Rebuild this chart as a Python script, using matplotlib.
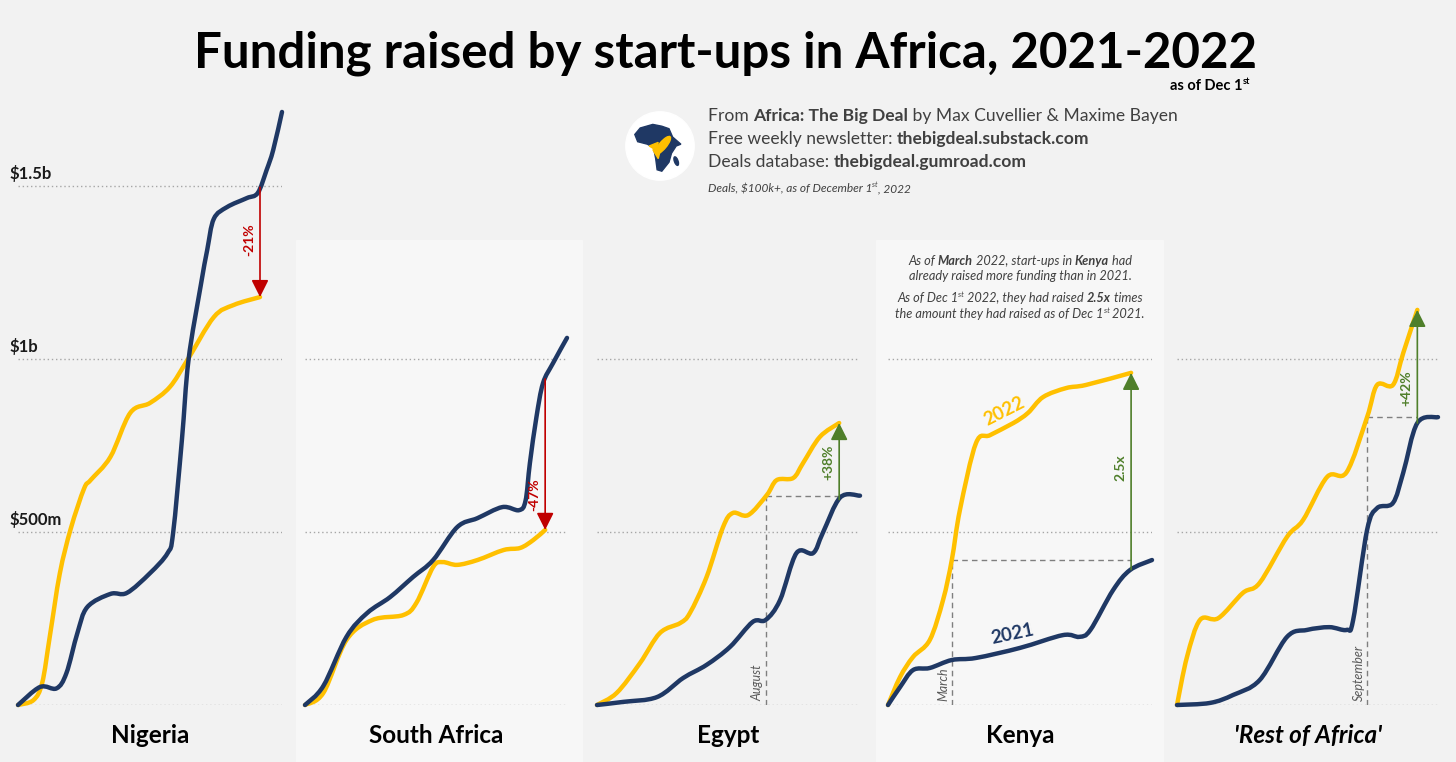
import matplotlib
matplotlib.use('Agg')
import matplotlib.pyplot as plt
from matplotlib.path import Path
from matplotlib.patches import PathPatch, Rectangle, Circle, Ellipse, Polygon

plt.rcParams['font.family'] = ['Lato', 'DejaVu Sans']

W, H = 1456, 762
NAVY = '#1f3864'
GOLD = '#ffc000'
RED = '#c00000'
GREEN = '#4f7f2a'
GRID = '#a6a6a6'
TXT = '#404040'

# cumulative funding raised, $m, by month of the year (0 = Jan 1st, 12 = Dec 31st)
nigeria_x21 = [0, 1.0, 1.75, 2.2, 2.7, 3.15, 4.2, 4.95, 6.0, 6.8, 7.05, 7.45, 7.75, 8.3, 8.6, 8.9, 9.5, 10.4, 10.9, 11.3, 11.6, 12]
nigeria_y21 = [0, 52, 48, 92, 208, 283, 321, 324, 381, 439, 497, 766, 997, 1210, 1315, 1405, 1439, 1465, 1480, 1546, 1604, 1714]
nigeria_x22 = [0, 0.7, 1.1, 1.45, 1.9, 2.4, 3.0, 3.3, 4.2, 5.1, 6.0, 6.9, 7.7, 8.9, 9.8, 11.0]
nigeria_y22 = [0, 14, 64, 200, 380, 510, 625, 650, 717, 844, 873, 919, 997, 1121, 1156, 1179]

safrica_x21 = [0, 0.84, 1.9, 2.85, 3.9, 4.95, 5.87, 6.97, 7.9, 9.04, 9.8, 10.1, 10.3, 10.6, 10.9, 11.36, 12]
safrica_y21 = [0, 55, 197, 266, 312, 370, 419, 514, 540, 572, 563, 590, 699, 832, 930, 988, 1061]
safrica_x22 = [0, 0.84, 1.9, 3.1, 4.5, 5.1, 5.87, 6.3, 6.97, 7.9, 9.1, 9.86, 10.46, 11.0]
safrica_y22 = [0, 35, 188, 246, 260, 295, 399, 413, 405, 419, 448, 454, 477, 506]

egypt_x21 = [0, 1.2, 2.74, 3.93, 5.0, 6.07, 7.1, 7.7, 8.35, 9.1, 9.86, 10.3, 11.1, 12]
egypt_y21 = [0, 9, 23, 78, 116, 168, 240, 246, 303, 439, 439, 497, 600, 605]
egypt_x22 = [0, 0.9, 1.96, 2.87, 3.8, 4.24, 5.0, 5.75, 6.2, 6.9, 7.75, 8.2, 8.95, 9.4, 10.17, 11.05]
egypt_y22 = [0, 35, 121, 208, 237, 266, 370, 514, 555, 549, 607, 650, 656, 699, 775, 815]

kenya_x21 = [0, 0.55, 1.14, 1.9, 2.9, 4.0, 6.0, 7.95, 8.7, 9.2, 10.23, 11.0, 12]
kenya_y21 = [0, 52, 101, 107, 130, 136, 165, 202, 197, 217, 332, 390, 419]
kenya_x22 = [0, 0.55, 1.14, 1.9, 2.5, 2.9, 3.27, 4.0, 4.64, 5.7, 6.36, 7.05, 8.1, 9.0, 11.05]
kenya_y22 = [0, 81, 139, 188, 303, 419, 564, 757, 780, 815, 844, 890, 916, 925, 960]

rest_x21 = [0, 1.52, 2.58, 3.8, 5.06, 5.98, 7.0, 7.8, 8.1, 8.74, 9.2, 9.93, 10.4, 11.05, 12]
rest_y21 = [0, 6, 29, 72, 197, 217, 225, 217, 246, 506, 569, 584, 671, 815, 832]
rest_x22 = [0, 0.46, 1.06, 1.9, 3.03, 3.8, 5.06, 5.8, 6.9, 7.8, 8.74, 9.2, 9.93, 10.4, 11.05]
rest_y22 = [0, 139, 246, 251, 324, 353, 486, 535, 659, 673, 832, 925, 925, 1017, 1142]

countries = ['Nigeria', 'South Africa', 'Egypt', 'Kenya', "'Rest of Africa'"]
changes = ['-21%', '-47%', '+38%', '2.5x', '+42%']
change_label_y = [1344, 607, 702, 685, 916]
# month when 2022 caught up with full-year 2021 (None = not yet)
catchup = [None, None, ('August', 7.7), ('March', 2.9), ('September', 8.74)]
gridlevels = [[0, 500, 1000, 1500], [0, 500, 1000], [0, 500, 1000], [0, 500, 1000], [0, 500, 1000]]

series = [
    (nigeria_x21, nigeria_y21, nigeria_x22, nigeria_y22),
    (safrica_x21, safrica_y21, safrica_x22, safrica_y22),
    (egypt_x21, egypt_y21, egypt_x22, egypt_y22),
    (kenya_x21, kenya_y21, kenya_x22, kenya_y22),
    (rest_x21, rest_y21, rest_x22, rest_y22),
]

# panel pixel extents (left, right)
panels = [(18, 282), (305, 567), (597, 860), (888, 1152), (1177, 1438)]
BASE, TOP = 705, 100
YMAX = (BASE - TOP) / 173 * 500


def smooth(xs, ys):
    # Catmull-Rom style bezier through the points (like Excel smoothed lines)
    pts = list(zip(xs, ys))
    verts, codes = [pts[0]], [Path.MOVETO]
    n = len(pts)
    for i in range(n - 1):
        p0 = pts[max(i - 1, 0)]
        p1, p2 = pts[i], pts[i + 1]
        p3 = pts[min(i + 2, n - 1)]
        c1 = (p1[0] + (p2[0] - p0[0]) / 6, p1[1] + (p2[1] - p0[1]) / 6)
        c2 = (p2[0] - (p3[0] - p1[0]) / 6, p2[1] - (p3[1] - p1[1]) / 6)
        verts += [c1, c2, p2]
        codes += [Path.CURVE4] * 3
    return Path(verts, codes)


def value_at(xs, ys, x):
    for j in range(len(xs) - 1):
        if xs[j] <= x <= xs[j + 1]:
            f = (x - xs[j]) / (xs[j + 1] - xs[j])
            return ys[j] + f * (ys[j + 1] - ys[j])
    return ys[-1]


fig = plt.figure(figsize=(W / 100, H / 100), dpi=100)
fig.patch.set_facecolor('#f2f2f2')
renderer = fig.canvas.get_renderer()

# lighter backgrounds for South Africa and Kenya
for l, r in [(296, 582), (876, 1163)]:
    fig.patches.append(Rectangle((l / W, 0), (r - l) / W, (H - 240) / H,
                                 transform=fig.transFigure, color='#f7f7f7', zorder=-10))


def measure(s, **kw):
    t = fig.text(0, 0, '|' + s + '|', **kw)
    w1 = t.get_window_extent(renderer).width
    t.remove()
    t = fig.text(0, 0, '||', **kw)
    w2 = t.get_window_extent(renderer).width
    t.remove()
    return w1 - w2


def rich(x, y, pieces, ha='left', size=11, color=TXT, style='normal'):
    # pieces: (text, weight, sup)
    items = []
    for text, weight, sup in pieces:
        kw = dict(fontsize=size * 0.62 if sup else size, fontweight=weight,
                  fontstyle=style, color=color)
        items.append((text, kw, sup, measure(text, **kw)))
    total = sum(it[3] for it in items)
    cur = x - total / 2 if ha == 'center' else (x - total if ha == 'right' else x)
    for text, kw, sup, w in items:
        dy = size * 0.55 if sup else 0
        fig.text(cur / W, 1 - (y - dy) / H, text, va='baseline', ha='left', **kw)
        cur += w


# title
fig.text(726 / W, 1 - 67 / H, 'Funding raised by start-ups in Africa, 2021-2022',
         ha='center', va='baseline', fontsize=35.5, fontweight='bold', color='black')
rich(1250, 90, [('as of Dec 1', 'bold', False), ('st', 'bold', True)], ha='right',
     size=10.5, color='black')

# source block
rich(708, 121, [('From ', 'normal', False), ('Africa: The Big Deal', 'bold', False),
                (' by Max Cuvellier & Maxime Bayen', 'normal', False)], size=12.6)
rich(708, 144, [('Free weekly newsletter: ', 'normal', False),
                ('thebigdeal.substack.com', 'bold', False)], size=12.6)
rich(708, 167, [('Deals database: ', 'normal', False),
                ('thebigdeal.gumroad.com', 'bold', False)], size=12.6)
rich(708, 192, [('Deals, $100k+, as of December 1', 'normal', False), ('st', 'normal', True),
                (', 2022', 'normal', False)], size=8.6, style='italic')

# logo
lax = fig.add_axes([(660 - 36) / W, 1 - (146 + 36) / H, 72 / W, 72 / H])
lax.set_xlim(-1, 1)
lax.set_ylim(-1, 1)
lax.axis('off')
lax.add_patch(Circle((0, 0), 0.95, color='white'))
africa = [(-0.55, 0.5), (-0.2, 0.6), (0.05, 0.55), (0.25, 0.48), (0.35, 0.25), (0.58, 0.05),
          (0.45, 0.0), (0.32, -0.2), (0.25, -0.45), (0.05, -0.7), (-0.08, -0.66),
          (-0.12, -0.35), (-0.18, -0.05), (-0.35, 0.05), (-0.62, 0.12), (-0.7, 0.32)]
lax.add_patch(Polygon(africa, closed=True, color=NAVY))
lax.add_patch(Ellipse((0.45, -0.42), 0.1, 0.25, angle=20, color=NAVY))
lax.add_patch(Ellipse((0.08, 0.02), 0.62, 0.2, angle=50, color=GOLD))
lax.add_patch(Polygon([(-0.2, -0.1), (-0.05, -0.35), (0.0, -0.15)], color=GOLD))
lax.add_patch(Polygon([(-0.05, 0.1), (-0.3, 0.0), (-0.1, -0.12)], color=GOLD))

# y labels
for val, lab in [(1500, '$1.5b'), (1000, '$1b'), (500, '$500m')]:
    ypx = BASE - val / 500 * 173
    fig.text(10 / W, 1 - (ypx - 7) / H, lab, ha='left', va='baseline',
             fontsize=12, fontweight='bold', color='#1a1a1a')

for i, (l, r) in enumerate(panels):
    ax = fig.add_axes([l / W, (H - BASE) / H, (r - l) / W, (BASE - TOP) / H])
    ax.set_xlim(0, 12)
    ax.set_ylim(0, YMAX)
    ax.axis('off')
    ax.patch.set_alpha(0)
    x21, y21, x22, y22 = series[i]

    ax.hlines(gridlevels[i], 0, 12, colors=GRID, linestyles=(0, (1, 2)), lw=1, zorder=1)

    xe = x22[-1]
    y21e = value_at(x21, y21, xe)

    if catchup[i] is not None:
        name, mx = catchup[i]
        full21 = y21[-1]
        ax.plot([mx, mx], [0, full21], color='#7f7f7f', ls=(0, (4, 3)), lw=1, zorder=2)
        ax.plot([mx, xe], [full21, full21], color='#7f7f7f', ls=(0, (4, 3)), lw=1, zorder=2)
        ax.text(mx - 0.12, 12, name, rotation=90, ha='right', va='bottom',
                fontsize=9, fontstyle='italic', color='#595959')

    ax.add_patch(PathPatch(smooth(x21, y21), facecolor='none', edgecolor=NAVY, lw=3.2,
                           capstyle='round', joinstyle='round', clip_on=False, zorder=4))
    ax.add_patch(PathPatch(smooth(x22, y22), facecolor='none', edgecolor=GOLD, lw=3.2,
                           capstyle='round', joinstyle='round', clip_on=False, zorder=3))

    col = GREEN if y22[-1] > y21e else RED
    ax.annotate('', xy=(xe, y22[-1]), xytext=(xe, y21e),
                arrowprops=dict(arrowstyle='-|>,head_length=0.8,head_width=0.4',
                                color=col, lw=1.2, shrinkA=0, shrinkB=0, mutation_scale=13),
                zorder=5)
    ax.text(xe - 0.5, change_label_y[i], changes[i], rotation=90, ha='center', va='center',
            fontsize=10, fontweight='bold', color=col, zorder=6)

    fig.text(((l + r) / 2) / W, 1 - 743 / H, countries[i], ha='center', va='baseline',
             fontsize=17.5, fontweight='bold', color='black',
             fontstyle='italic' if i == 4 else 'normal')

    if i == 3:
        ax.text(5.3, 850, '2022', rotation=27, ha='center', va='center',
                fontsize=13.5, fontweight='bold', color=GOLD)
        ax.text(5.64, 205, '2021', rotation=12, ha='center', va='center',
                fontsize=13.5, fontweight='bold', color=NAVY)

# Kenya note
rich(1020, 265, [('As of ', 'normal', False), ('March', 'bold', False),
                 (' 2022, start-ups in ', 'normal', False), ('Kenya', 'bold', False),
                 (' had', 'normal', False)], ha='center', size=9.2, style='italic')
rich(1020, 280, [('already raised more funding than in 2021.', 'normal', False)],
     ha='center', size=9.2, style='italic')
rich(1020, 302, [('As of Dec 1', 'normal', False), ('st', 'normal', True),
                 (' 2022, they had raised ', 'normal', False), ('2.5x', 'bold', False),
                 (' times', 'normal', False)], ha='center', size=9.2, style='italic')
rich(1020, 318, [('the amount they had raised as of Dec 1', 'normal', False),
                 ('st', 'normal', True), (' 2021.', 'normal', False)],
     ha='center', size=9.2, style='italic')

fig.savefig('out.png', dpi=100, facecolor=fig.get_facecolor())
